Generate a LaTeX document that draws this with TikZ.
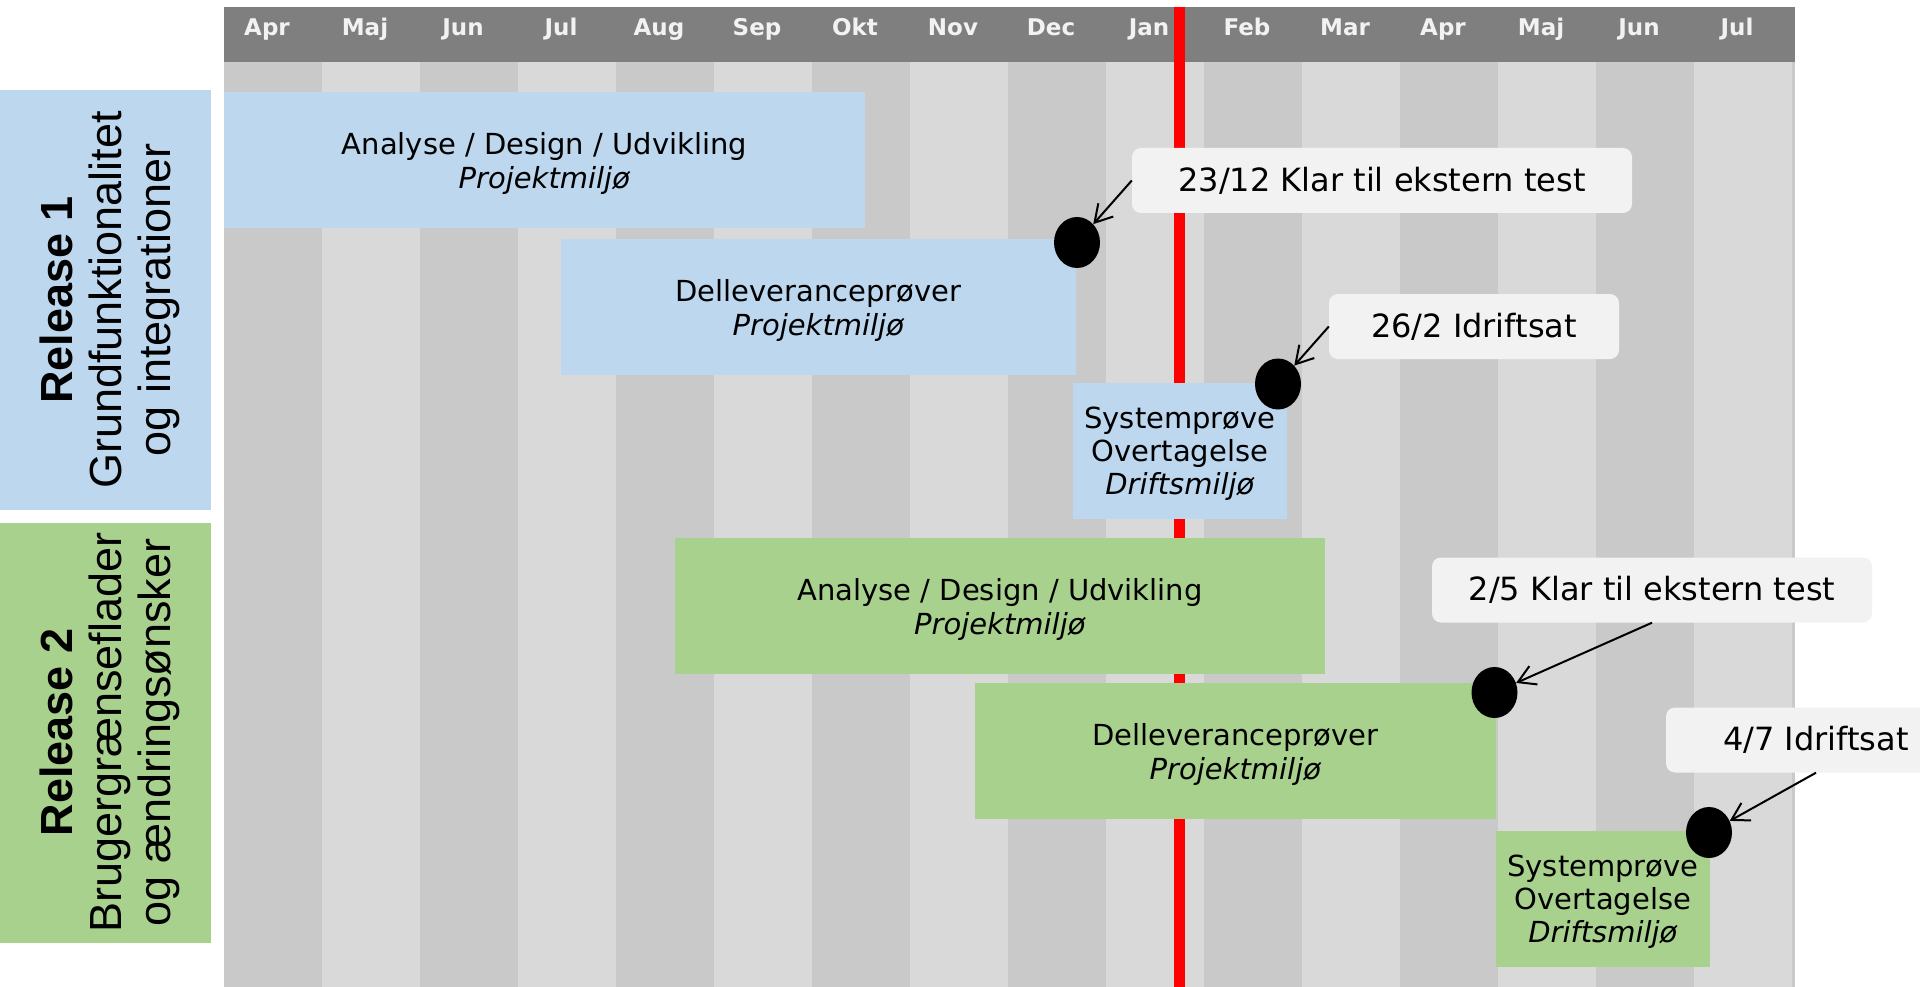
\documentclass[tikz,border=0pt]{standalone}
\usepackage{fontspec}
\setmainfont{DejaVu Sans}
\newfontfamily\arialfont{Liberation Sans}
\usetikzlibrary{shapes.geometric,arrows.meta}

\definecolor{hdrgray}{HTML}{7F7F7F}
\definecolor{coldark}{HTML}{C9C9C9}
\definecolor{collight}{HTML}{D9D9D9}
\definecolor{relblue}{HTML}{BDD7EE}
\definecolor{relgreen}{HTML}{A9D18E}
\definecolor{callgray}{HTML}{F2F2F2}

\begin{document}
\begin{tikzpicture}[x=1pt,y=-1pt,
	mlabel/.style={anchor=base,text=white!95!black,font=\bfseries\fontsize{23}{26}\selectfont},
	relbox/.style={fill=#1,rotate=90,minimum width=420pt,minimum height=211pt,inner sep=0pt,text depth=0pt,align=center,font=\arialfont\fontsize{45}{49}\selectfont},
	bar/.style={fill=#1,inner sep=0pt,minimum height=136pt,text depth=0pt,align=center,font=\fontsize{29}{34}\selectfont},
	callout/.style={fill=callgray,rounded corners=9pt,inner sep=0pt,minimum height=65pt,font=\fontsize{32}{38}\selectfont},
	ms/.style={ellipse,fill=black,minimum width=46pt,minimum height=51pt,inner sep=0pt},
	pil/.style={line width=2pt,-{Straight Barb[length=17pt,width=20pt]}}]
	\useasboundingbox (0,0) rectangle (1920,987);
	\clip (0,0) rectangle (1920,987);
	\fill[coldark] (224,61) rectangle (1795,987);
	\foreach \i in {1,3,...,15}
		\fill[collight] ({224+98*\i},61) rectangle ++(98,926);
	\fill[hdrgray] (224,7) rectangle (1795,62);
	\foreach \m [count=\i from 0] in {Apr,Maj,Jun,Jul,Aug,Sep,Okt,Nov,Dec,Jan,Feb,Mar,Apr,Maj,Jun,Jul}
		\node[mlabel] (mon\i) at ({267+98*\i},36) {\m};
	\draw[red,line width=11pt] (1179,7) -- (1179,987);

	\node[relbox=relblue] (rel1) at (105.5,300) {\textbf{Release 1}\\Grundfunktionalitet\\og integrationer};
	\node[relbox=relgreen] (rel2) at (105.5,732.5) {\textbf{Release 2}\\Brugergrænseflader\\og ændringsønsker};

	\node[bar=relblue,minimum width=641pt] (ana1) at (544.5,160.5) {Analyse / Design / Udvikling\\\textit{Projektmiljø}};
	\node[bar=relblue,minimum width=515pt] (del1) at (818.5,307) {Delleveranceprøver\\\textit{Projektmiljø}};
	\node[bar=relblue,minimum width=214pt,font=\fontsize{29}{33}\selectfont] (sys1) at (1180,451) {Systemprøve\\Overtagelse\\\textit{Driftsmiljø}};
	\node[bar=relgreen,minimum width=650pt] (ana2) at (1000,606) {Analyse / Design / Udvikling\\\textit{Projektmiljø}};
	\node[bar=relgreen,minimum width=521pt] (del2) at (1235.5,751) {Delleveranceprøver\\\textit{Projektmiljø}};
	\node[bar=relgreen,minimum width=214pt,font=\fontsize{29}{33}\selectfont] (sys2) at (1603,899) {Systemprøve\\Overtagelse\\\textit{Driftsmiljø}};

	\node[callout,minimum width=500pt] (klar1) at (1382,180.5) {23/12 Klar til ekstern test};
	\node[callout,minimum width=290pt] (drift1) at (1474,326.5) {26/2 Idriftsat};
	\node[callout,minimum width=440pt] (klar2) at (1652,590) {2/5 Klar til ekstern test};
	\node[callout,minimum width=300pt] (drift2) at (1816,740) {4/7 Idriftsat};

	\node[ms] (ms1) at (1077,242.5) {};
	\node[ms] (ms2) at (1278,384) {};
	\node[ms] (ms3) at (1494.5,692.5) {};
	\node[ms] (ms4) at (1709,832.5) {};

	\draw[pil] (klar1.west) -- (ms1);
	\draw[pil] (drift1.west) -- (ms2);
	\draw[pil] (klar2.south) -- (ms3);
	\draw[pil] (drift2.south) -- (ms4);
\end{tikzpicture}
\end{document}
